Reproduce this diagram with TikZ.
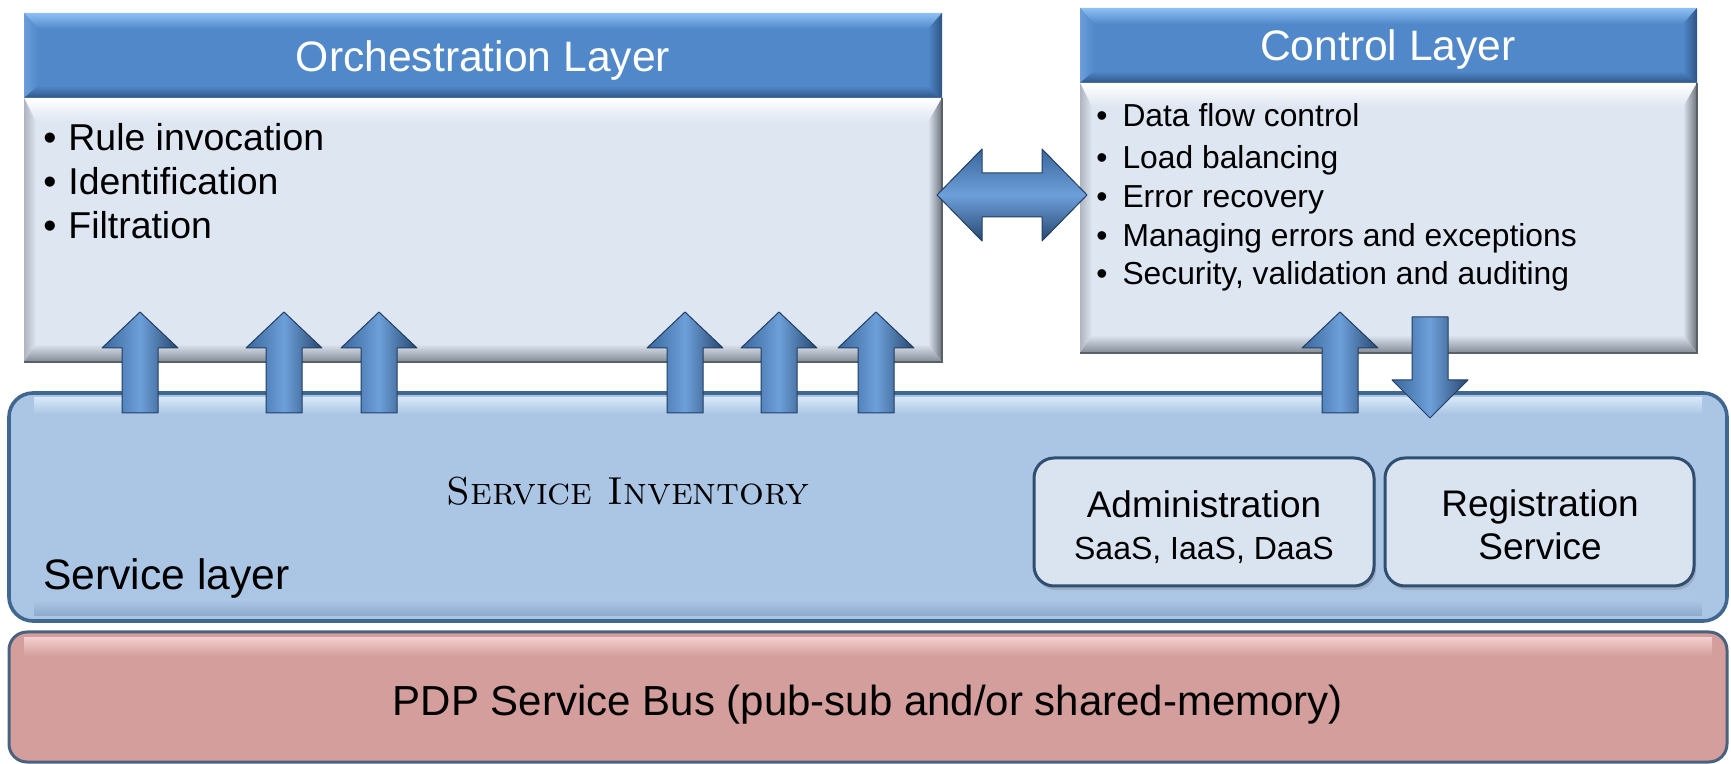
\documentclass[tikz,border=0pt]{standalone}
\usepackage{fontspec}
\newfontfamily\arialfont{Liberation Sans}
\usetikzlibrary{shadows,fit}

% palette
\definecolor{hdface}{HTML}{5088C9}
\definecolor{hdtop}{HTML}{8FC0F4}
\definecolor{hdleft}{HTML}{6C9EDB}
\definecolor{hdright}{HTML}{2E5483}
\definecolor{hdbottom}{HTML}{2F5687}
\definecolor{bdface}{HTML}{DEE6F2}
\definecolor{bdleft}{HTML}{AEB5C0}
\definecolor{bdright}{HTML}{6C727B}
\definecolor{bdbottom}{HTML}{838A94}
\definecolor{bdedge}{HTML}{5A6068}
\definecolor{svcface}{HTML}{ABC6E5}
\definecolor{svcedge}{HTML}{3F6790}
\definecolor{svclight}{HTML}{D6E6F7}
\definecolor{svcdark}{HTML}{8DAACC}
\definecolor{busface}{HTML}{D39E9C}
\definecolor{buslight}{HTML}{F3CDCD}
\definecolor{busedge}{HTML}{4B627F}
\definecolor{subface}{HTML}{DAE4F1}
\definecolor{subedge}{HTML}{2F4E70}
\definecolor{arrL}{HTML}{3A679C}
\definecolor{arrM}{HTML}{6D9FDA}
\definecolor{arrR}{HTML}{274870}
\definecolor{arrE}{HTML}{223F63}

% bevelled title bar of a layer box
\newcommand\headerbevel[4]{%
  \fill[hdface] (#1,#2) rectangle (#3,#4);
  \shade[top color=hdtop, bottom color=hdface] (#1,#2) -- (#3,#2) -- ({#3-14},{#2+16}) -- ({#1+14},{#2+16}) -- cycle;
  \shade[left color=hdleft, right color=hdface] (#1,#2) -- ({#1+14},{#2+16}) -- ({#1+14},{#4-12}) -- (#1,#4) -- cycle;
  \shade[left color=hdface, right color=hdright] (#3,#2) -- ({#3-14},{#2+16}) -- ({#3-14},{#4-12}) -- (#3,#4) -- cycle;
  \shade[top color=hdface, bottom color=hdbottom] (#1,#4) -- ({#1+14},{#4-12}) -- ({#3-14},{#4-12}) -- (#3,#4) -- cycle;
}
% bevelled body of a layer box
\newcommand\bodybevel[4]{%
  \fill[bdface] (#1,#2) rectangle (#3,#4);
  \shade[top color=white, bottom color=bdface] (#1,#2) -- (#3,#2) -- ({#3-14},{#2+24}) -- ({#1+12},{#2+24}) -- cycle;
  \shade[left color=bdleft, right color=bdface] (#1,#2) -- ({#1+12},{#2+24}) -- ({#1+12},{#4-18}) -- (#1,#4) -- cycle;
  \shade[left color=bdface, right color=bdright] (#3,#2) -- ({#3-14},{#2+24}) -- ({#3-14},{#4-18}) -- (#3,#4) -- cycle;
  \shade[top color=bdface, bottom color=bdbottom] (#1,#4) -- ({#1+12},{#4-18}) -- ({#3-14},{#4-18}) -- (#3,#4) -- cycle;
  \draw[bdedge, line width=1pt] (#3,#2) -- (#3,#4) -- (#1,#4);
}

\tikzset{
  blockarrow/.style={left color=arrL, right color=arrR, middle color=arrM, draw=arrE, line width=0.5pt, line join=round},
  blockarrowh/.style={top color=arrL, bottom color=arrR, middle color=arrM, draw=arrE, line width=0.5pt, line join=round},
  uparrow/.pic={\shade[blockarrow] (0,0) -- (38,36) -- (18,36) -- (18,101) -- (-18,101) -- (-18,36) -- (-38,36) -- cycle;},
  downarrow/.pic={\shade[blockarrow] (-18,0) -- (18,0) -- (18,63) -- (38,63) -- (0,101) -- (-38,63) -- (-18,63) -- cycle;},
  dblarrow/.pic={\shade[blockarrowh] (-75,0) -- (-30,-46) -- (-30,-22) -- (30,-22) -- (30,-46) -- (75,0) -- (30,46) -- (30,22) -- (-30,22) -- (-30,46) -- cycle;},
  headtext/.style={text=white, font=\arialfont\fontsize{21.3}{24}\selectfont, inner sep=0pt, anchor=base},
  orchitem/.style={font=\arialfont\fontsize{18.7}{22}\selectfont, inner sep=0pt, anchor=base west},
  ctrlitem/.style={font=\arialfont\fontsize{15.9}{19}\selectfont, inner sep=0pt, anchor=base west},
  bigtext/.style={font=\arialfont\fontsize{21.3}{24}\selectfont, inner sep=0pt},
  subtext/.style={font=\arialfont\fontsize{18.5}{22}\selectfont, inner sep=0pt, anchor=base},
  smalltext/.style={font=\arialfont\fontsize{16}{19}\selectfont, inner sep=0pt, anchor=base},
  subbox/.style={draw=subedge, line width=1.5pt, fill=subface, rounded corners=10pt, inner sep=0pt,
    drop shadow={shadow xshift=1pt, shadow yshift=-2pt, opacity=0.35}},
}

\begin{document}
\begin{tikzpicture}[x=0.5pt, y=-0.5pt]
\useasboundingbox[fill=white] (0,0) rectangle (1731,764);

% ---- orchestration layer
\headerbevel{24}{13}{942}{98}
\bodybevel{24}{98}{942}{362}
\node[fit={(24,13) (942,362)}, inner sep=0pt] (orch) {};
\node[headtext] (orchtitle) at (483,72) {Orchestration Layer};
\node[orchitem] (o1) at (43,151) {•\hspace{6pt}Rule invocation};
\node[orchitem] (o2) at (43,195) {•\hspace{6pt}Identification};
\node[orchitem] (o3) at (43,239) {•\hspace{6pt}Filtration};

% ---- control layer
\headerbevel{1080}{8}{1697}{83}
\bodybevel{1080}{83}{1697}{353}
\node[fit={(1080,8) (1697,353)}, inner sep=0pt] (ctrl) {};
\node[headtext] (ctrltitle) at (1388,61) {Control Layer};
\node[ctrlitem] (c1) at (1096,127) {•\hspace{7.5pt}Data flow control};
\node[ctrlitem] (c2) at (1096,169) {•\hspace{7.5pt}Load balancing};
\node[ctrlitem] (c3) at (1096,208) {•\hspace{7.5pt}Error recovery};
\node[ctrlitem] (c4) at (1096,247) {•\hspace{7.5pt}Managing errors and exceptions};
\node[ctrlitem] (c5) at (1096,285) {•\hspace{7.5pt}Security, validation and auditing};

% ---- service layer
\node[draw=svcedge, line width=1.8pt, fill=svcface, rounded corners=12pt,
      minimum width=859pt, minimum height=114pt, inner sep=0pt] (svc) at (868,507) {};
\shade[top color=svclight, bottom color=svcface] (34,398) rectangle (1702,414);
\shade[top color=svcface, bottom color=svcdark] (34,600) rectangle (1702,616);
\node[font=\fontsize{19.5}{22}\selectfont, inner sep=0pt, anchor=base] (inv) at (628,505) {\textsc{Service Inventory}};
\node[bigtext, anchor=base west] (svclabel) at (43,590) {Service layer};

\node[subbox, minimum width=170pt, minimum height=64pt] (admin) at (1204,522) {};
\node[subtext] (admin1) at (1204,518) {Administration};
\node[smalltext] (admin2) at (1204,560) {SaaS, IaaS, DaaS};

\node[subbox, minimum width=154.5pt, minimum height=64pt] (reg) at (1539.5,522) {};
\node[subtext] (reg1) at (1540,517) {Registration};
\node[subtext] (reg2) at (1540,560) {Service};

% ---- service bus
\node[draw=busedge, line width=1.5pt, fill=busface, rounded corners=9pt,
      minimum width=859pt, minimum height=65pt, inner sep=0pt] (bus) at (868,697) {};
\shade[top color=buslight, bottom color=busface] (24,638) rectangle (1712,656);
\node[bigtext, anchor=base, font=\arialfont\fontsize{21}{24}\selectfont] (bustext) at (868,715) {PDP Service Bus (pub-sub and/or shared-memory)};

% ---- block arrows between layers
\foreach \ax/\nm in {140/a1, 284/a2, 379/a3, 685/a4, 779/a5, 876/a6}{
  \coordinate (\nm) at (\ax,312);
  \pic at (\nm) {uparrow};
}
\coordinate (cup) at (1340,312);
\pic at (cup) {uparrow};
\coordinate (cdown) at (1430,317);
\pic at (cdown) {downarrow};
\coordinate (link) at (1012,195);
\pic at (link) {dblarrow};
\end{tikzpicture}
\end{document}
